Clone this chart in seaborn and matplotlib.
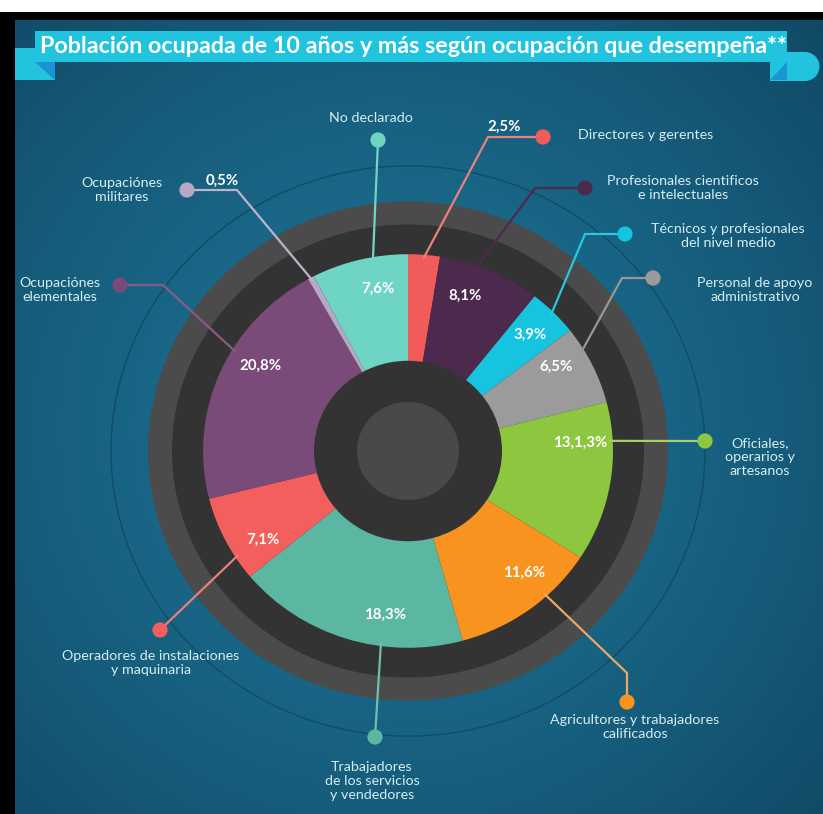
import numpy as np
import matplotlib
matplotlib.use("Agg")
import matplotlib.pyplot as plt
from matplotlib.patches import Circle, Polygon, Ellipse
import seaborn as sns

# ---- data -------------------------------------------------------------
categories = [
    "Directores y gerentes",
    "Profesionales cientificos\ne intelectuales",
    "Técnicos y profesionales\ndel nivel medio",
    "Personal de apoyo\nadministrativo",
    "Oficiales,\noperarios y\nartesanos",
    "Agricultores y trabajadores\ncalificados",
    "Trabajadores\nde los servicios\ny vendedores",
    "Operadores de instalaciones\ny maquinaria",
    "Ocupaciónes\nelementales",
    "Ocupaciónes\nmilitares",
    "No declarado",
]
shares = [2.5, 8.1, 3.9, 6.5, 13.1, 11.6, 18.3, 7.1, 20.8, 0.5, 7.6]
share_labels = ["2,5%", "8,1%", "3,9%", "6,5%", "13,1,3%", "11,6%",
                "18,3%", "7,1%", "20,8%", "0,5%", "7,6%"]
title = "Población ocupada de 10 años y más según ocupación que desempeña**"

# ---- styling ----------------------------------------------------------
sns.set_theme(style="white")
plt.rcParams["font.family"] = ["Lato", "DejaVu Sans"]

wedge_colors = sns.color_palette([
    "#f15b5a", "#4b2a4d", "#17c4e0", "#9b9b9b", "#8dc63f", "#f7931e",
    "#5bb6a2", "#f25f5c", "#7a4a79", "#b7a7c9", "#6ed4c4"])
line_colors = ["#e8837b", "#4b2a4d", "#2cc6df", "#979797", "#a8cf6a",
               "#e8a868", "#6cc0ae", "#e8807a", "#8a5a87", "#c0b2cc", "#72d4c4"]
TEXT = "#d6edf2"

W, H = 823, 814
SQ = 0.96            # vertical pixel size of one data unit


def P(x, y):
    """pixel position (origin top-left) -> data coordinates"""
    return x, (H - y) / SQ


# layout: preferred leader angle (deg clockwise from 12 o'clock), elbow, dot,
# label centre -- all in pixels
pref_angle = [4.5, 19.5, 36, 50, 87, 137.5, 187.7, 236, 301, 334, 350]
elbows = [(488, 137), (535, 188), (585, 234), (622, 278), None, (627, 673),
          None, None, (163, 285), (237, 190), None]
dots = [(543, 137), (585, 188), (625, 234), (653, 278), (705, 441),
        (627, 702), (375, 737), (160, 630), (120, 285), (187, 190), (378, 140)]
label_pos = [(646, 135), (683, 188), (728, 236), (755, 290), (760, 457),
             (635, 727), (372, 781), (151, 663), (60, 290), (122, 190),
             (371, 118)]
outside_pct = {0: (504, 127), 9: (222, 181)}

fig = plt.figure(figsize=(W / 100, H / 100), dpi=100)
ax = fig.add_axes([0, 0, 1, 1])

# ---- background -------------------------------------------------------
yy, xx = np.mgrid[0:H, 0:W]
d = np.hypot((xx - 390) / 560, (yy - 430) / 560)
t = (np.clip(d, 0, 1.25) / 1.25) ** 1.5
c0 = np.array([28, 112, 146]) / 255
c1 = np.array([13, 62, 88]) / 255
bg = c0 * (1 - t[..., None]) + c1 * t[..., None]
ax.imshow(bg, extent=(0, W, 0, H / SQ), origin="upper", aspect="auto",
          zorder=0, interpolation="bilinear")

# ---- rings ------------------------------------------------------------
cx, cy = P(408, 451)
R = 205
ax.add_patch(Circle((cx, cy), 297, fill=False, ec="#114c66", lw=1.0, zorder=1))
ax.add_patch(Circle((cx, cy), 260, fc="#4b4b4b", ec="none", zorder=2))
ax.add_patch(Circle((cx, cy), 236, fc="#333333", ec="none", zorder=3))

wedges, _ = ax.pie(shares, colors=wedge_colors, startangle=90,
                   counterclock=False, radius=R, center=(cx, cy),
                   wedgeprops=dict(linewidth=0, zorder=4), frame=True)

ax.add_patch(Circle((cx, cy), 94, fc="#333333", ec="none", zorder=5))
ax.add_patch(Circle((cx, cy), 51, fc="#494949", ec="none", zorder=6))


def polar(theta, r):
    a = np.radians(theta)
    return cx + r * np.sin(a), cy + r * np.cos(a)


bounds = np.concatenate([[0], np.cumsum(shares)]) / np.sum(shares) * 360

for i, cat in enumerate(categories):
    a0, a1 = bounds[i], bounds[i + 1]
    margin = min((a1 - a0) / 2, 7)
    ang = float(np.clip(pref_angle[i], a0 + margin, a1 - margin))
    sx, sy = polar(ang, R - 3)
    pts = [(sx, sy)]
    if elbows[i] is not None:
        pts.append(P(*elbows[i]))
    pts.append(P(*dots[i]))
    xs, ys = zip(*pts)
    ax.plot(xs, ys, color=line_colors[i], lw=1.6, zorder=7,
            solid_capstyle="round", solid_joinstyle="round")
    ax.scatter([xs[-1]], [ys[-1]], s=120, color=wedge_colors[i],
               edgecolors="none", zorder=8)
    # percentage
    if i in outside_pct:
        px, py = P(*outside_pct[i])
    else:
        px, py = polar(ang, R - 33)
    ax.text(px, py, share_labels[i], color="white", fontsize=10.8,
            fontweight="bold", ha="center", va="center", zorder=9)
    # category name
    lx, ly = P(*label_pos[i])
    ax.text(lx, ly, cat, color=TEXT, fontsize=10.3, ha="center", va="center",
            linespacing=1.2, zorder=9)

# ---- title ribbon -----------------------------------------------------
CYAN = "#21c3de"
FOLD = "#1a94d2"
ax.add_patch(Polygon([P(15, 48), P(55, 48), P(55, 80), P(15, 80)],
                     closed=True, fc=CYAN, ec="none", zorder=10))
ax.add_patch(Polygon([P(35, 62), P(55, 62), P(55, 80)], closed=True,
                     fc=FOLD, ec="none", zorder=11))
ax.add_patch(Polygon([P(770, 52), P(806, 52), P(806, 81), P(770, 81)],
                     closed=True, fc=CYAN, ec="none", zorder=10))
ex, ey = P(805, 66.5)
ax.add_patch(Ellipse((ex, ey), 29, 29 / SQ, fc=CYAN, ec="none", zorder=10))
ax.add_patch(Polygon([P(770, 80), P(787, 62), P(787, 80)], closed=True,
                     fc=FOLD, ec="none", zorder=11))
ax.add_patch(Polygon([P(35, 31), P(787, 31), P(787, 62), P(35, 62)],
                     closed=True, fc=CYAN, ec="none", zorder=12))
tx, ty = P(413, 46)
ax.text(tx, ty, title, color="white", fontsize=16.8, fontweight="bold",
        ha="center", va="center", zorder=13)

# ---- frame ------------------------------------------------------------
ax.add_patch(Polygon([P(0, 0), P(W, 0), P(W, 12), P(0, 12)], closed=True,
                     fc="white", ec="none", zorder=20))
ax.add_patch(Polygon([P(0, 12), P(W, 12), P(W, 20), P(0, 20)], closed=True,
                     fc="black", ec="none", zorder=20))
ax.add_patch(Polygon([P(0, 12), P(15, 12), P(15, H), P(0, H)], closed=True,
                     fc="black", ec="none", zorder=20))

ax.set_xlim(0, W)
ax.set_ylim(0, H / SQ)
ax.set_aspect("auto")
ax.axis("off")

fig.savefig("out.png", dpi=100)
